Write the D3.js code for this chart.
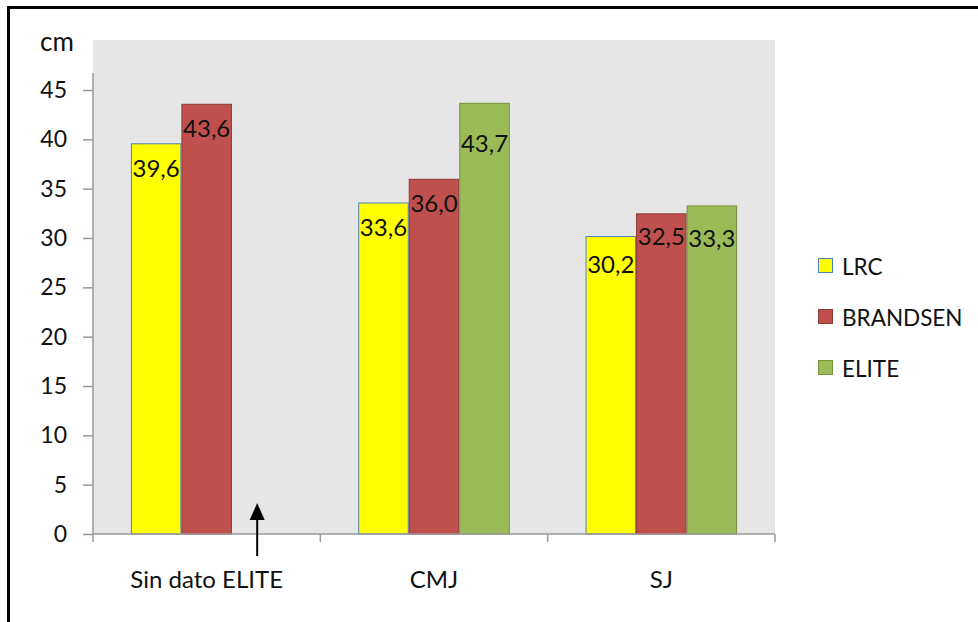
<!DOCTYPE html>
<html>
<head>
<meta charset="utf-8">
<script src="https://cdn.jsdelivr.net/npm/d3@7"></script>
<style>
  html, body { margin: 0; padding: 0; background: #fff; }
  svg { display: block; font-family: Lato, "Open Sans", sans-serif; }
</style>
</head>
<body>
<svg id="chart" width="978" height="622"></svg>
<script>
// Jump heights (cm) per test and group
const categories = ["Sin dato ELITE", "CMJ", "SJ"];
const seriesNames = ["LRC", "BRANDSEN", "ELITE"];
const lrcValues = [39.6, 33.6, 30.2];
const brandsenValues = [43.6, 36.0, 32.5];
const eliteValues = [null, 43.7, 33.3];
const yTicks = [0, 5, 10, 15, 20, 25, 30, 35, 40, 45];
const unitLabel = "cm";

const seriesValues = [lrcValues, brandsenValues, eliteValues];
const fills = ["#FFFF00", "#C0504D", "#9BBB59"];
const strokes = ["#4F81BD", "#8C3B39", "#77933C"];
// extra downward shift for labels that were moved to avoid crowding
const labelShift = { "CMJ|ELITE": 16, "SJ|LRC": 3, "SJ|ELITE": 8, "SJ|BRANDSEN": -2 };

const svg = d3.select("#chart");

// outer frame (top and left edges)
svg.append("line").attr("x1", 8).attr("x2", 978).attr("y1", 7.5).attr("y2", 7.5)
  .attr("stroke", "#000").attr("stroke-width", 3);
svg.append("line").attr("x1", 8.5).attr("x2", 8.5).attr("y1", 6).attr("y2", 622)
  .attr("stroke", "#000").attr("stroke-width", 3);

const plot = { left: 93, right: 775, top: 40, bottom: 534 };

// plot background
svg.append("rect")
  .attr("x", plot.left).attr("y", plot.top)
  .attr("width", plot.right - plot.left).attr("height", plot.bottom - plot.top)
  .attr("fill", "#E6E6E6");

const y = d3.scaleLinear().domain([0, 45]).range([plot.bottom, 90]);
const x0 = d3.scaleBand().domain(categories).range([plot.left, plot.right]).padding(0);
const x1 = d3.scaleBand().domain(seriesNames).range([0, x0.bandwidth()])
  .paddingInner(0).paddingOuter(0.75);

const fmt = d3.formatLocale({ decimal: ",", thousands: ".", grouping: [3], currency: ["", ""] }).format(".1f");

// bars
const rows = [];
categories.forEach((c, i) => {
  seriesNames.forEach((s, j) => {
    const v = seriesValues[j][i];
    if (v != null) rows.push({ c, s, j, v });
  });
});

const bars = svg.append("g");
bars.selectAll("rect").data(rows).join("rect")
  .attr("x", d => x0(d.c) + x1(d.s) + 0.5)
  .attr("y", d => y(d.v) + 0.5)
  .attr("width", x1.bandwidth() - 1)
  .attr("height", d => y(0) - y(d.v) - 0.5)
  .attr("fill", d => fills[d.j])
  .attr("stroke", d => strokes[d.j])
  .attr("stroke-width", 1);

bars.selectAll("text").data(rows).join("text")
  .attr("x", d => x0(d.c) + x1(d.s) + x1.bandwidth() / 2)
  .attr("y", d => y(d.v) + 24 + (labelShift[d.c + "|" + d.s] || 0))
  .attr("text-anchor", "middle")
  .attr("dominant-baseline", "central")
  .attr("font-size", 24)
  .attr("fill", "#111")
  .text(d => fmt(d.v));

// y axis
const yAxis = svg.append("g").attr("transform", `translate(${plot.left},0)`)
  .call(d3.axisLeft(y).tickValues(yTicks).tickSize(10).tickPadding(16).tickFormat(d3.format("d")));
yAxis.select(".domain").attr("d", `M0,73V${plot.bottom}`).attr("stroke", "#999").attr("stroke-width", 1.5);
yAxis.selectAll(".tick line").attr("stroke", "#999").attr("stroke-width", 1.5);
yAxis.selectAll(".tick text").attr("font-size", 23).attr("fill", "#111")
  .attr("font-family", "Lato, 'Open Sans', sans-serif");

// x axis
const xAxis = svg.append("g").attr("transform", `translate(0,${plot.bottom})`)
  .call(d3.axisBottom(x0).tickSize(0).tickPadding(37));
xAxis.select(".domain").attr("d", `M${plot.left},0H${plot.right}`).attr("stroke", "#999").attr("stroke-width", 1.5);
xAxis.selectAll(".tick text").attr("font-size", 24).attr("fill", "#111")
  .attr("font-family", "Lato, 'Open Sans', sans-serif");
// category boundary ticks
const bounds = categories.map(c => x0(c)).concat([plot.right]);
xAxis.selectAll("line.bound").data(bounds).join("line")
  .attr("class", "bound")
  .attr("x1", d => d).attr("x2", d => d)
  .attr("y1", 0).attr("y2", 8)
  .attr("stroke", "#999").attr("stroke-width", 1.5);

// unit label
svg.append("text").attr("x", 40).attr("y", 51)
  .attr("font-size", 26).attr("fill", "#111").text(unitLabel);

// arrow pointing at the empty ELITE slot
const gap = x0(categories[0]) + x1("ELITE") + x1.bandwidth() / 2;
svg.append("line").attr("x1", gap).attr("x2", gap).attr("y1", 556).attr("y2", 515)
  .attr("stroke", "#000").attr("stroke-width", 2);
svg.append("path")
  .attr("d", `M${gap},503 L${gap - 7.5},520 L${gap + 7.5},520 Z`)
  .attr("fill", "#000");

// legend
const legend = svg.append("g");
const ly = d3.scalePoint().domain(seriesNames).range([266, 368]);
seriesNames.forEach((s, j) => {
  legend.append("rect")
    .attr("x", 818.5).attr("y", ly(s) - 7.5)
    .attr("width", 14).attr("height", 14)
    .attr("fill", fills[j]).attr("stroke", strokes[j]).attr("stroke-width", 1);
  legend.append("text")
    .attr("x", 842).attr("y", ly(s))
    .attr("dominant-baseline", "central")
    .attr("font-size", 22.5).attr("fill", "#111")
    .text(s);
});
</script>
</body>
</html>
